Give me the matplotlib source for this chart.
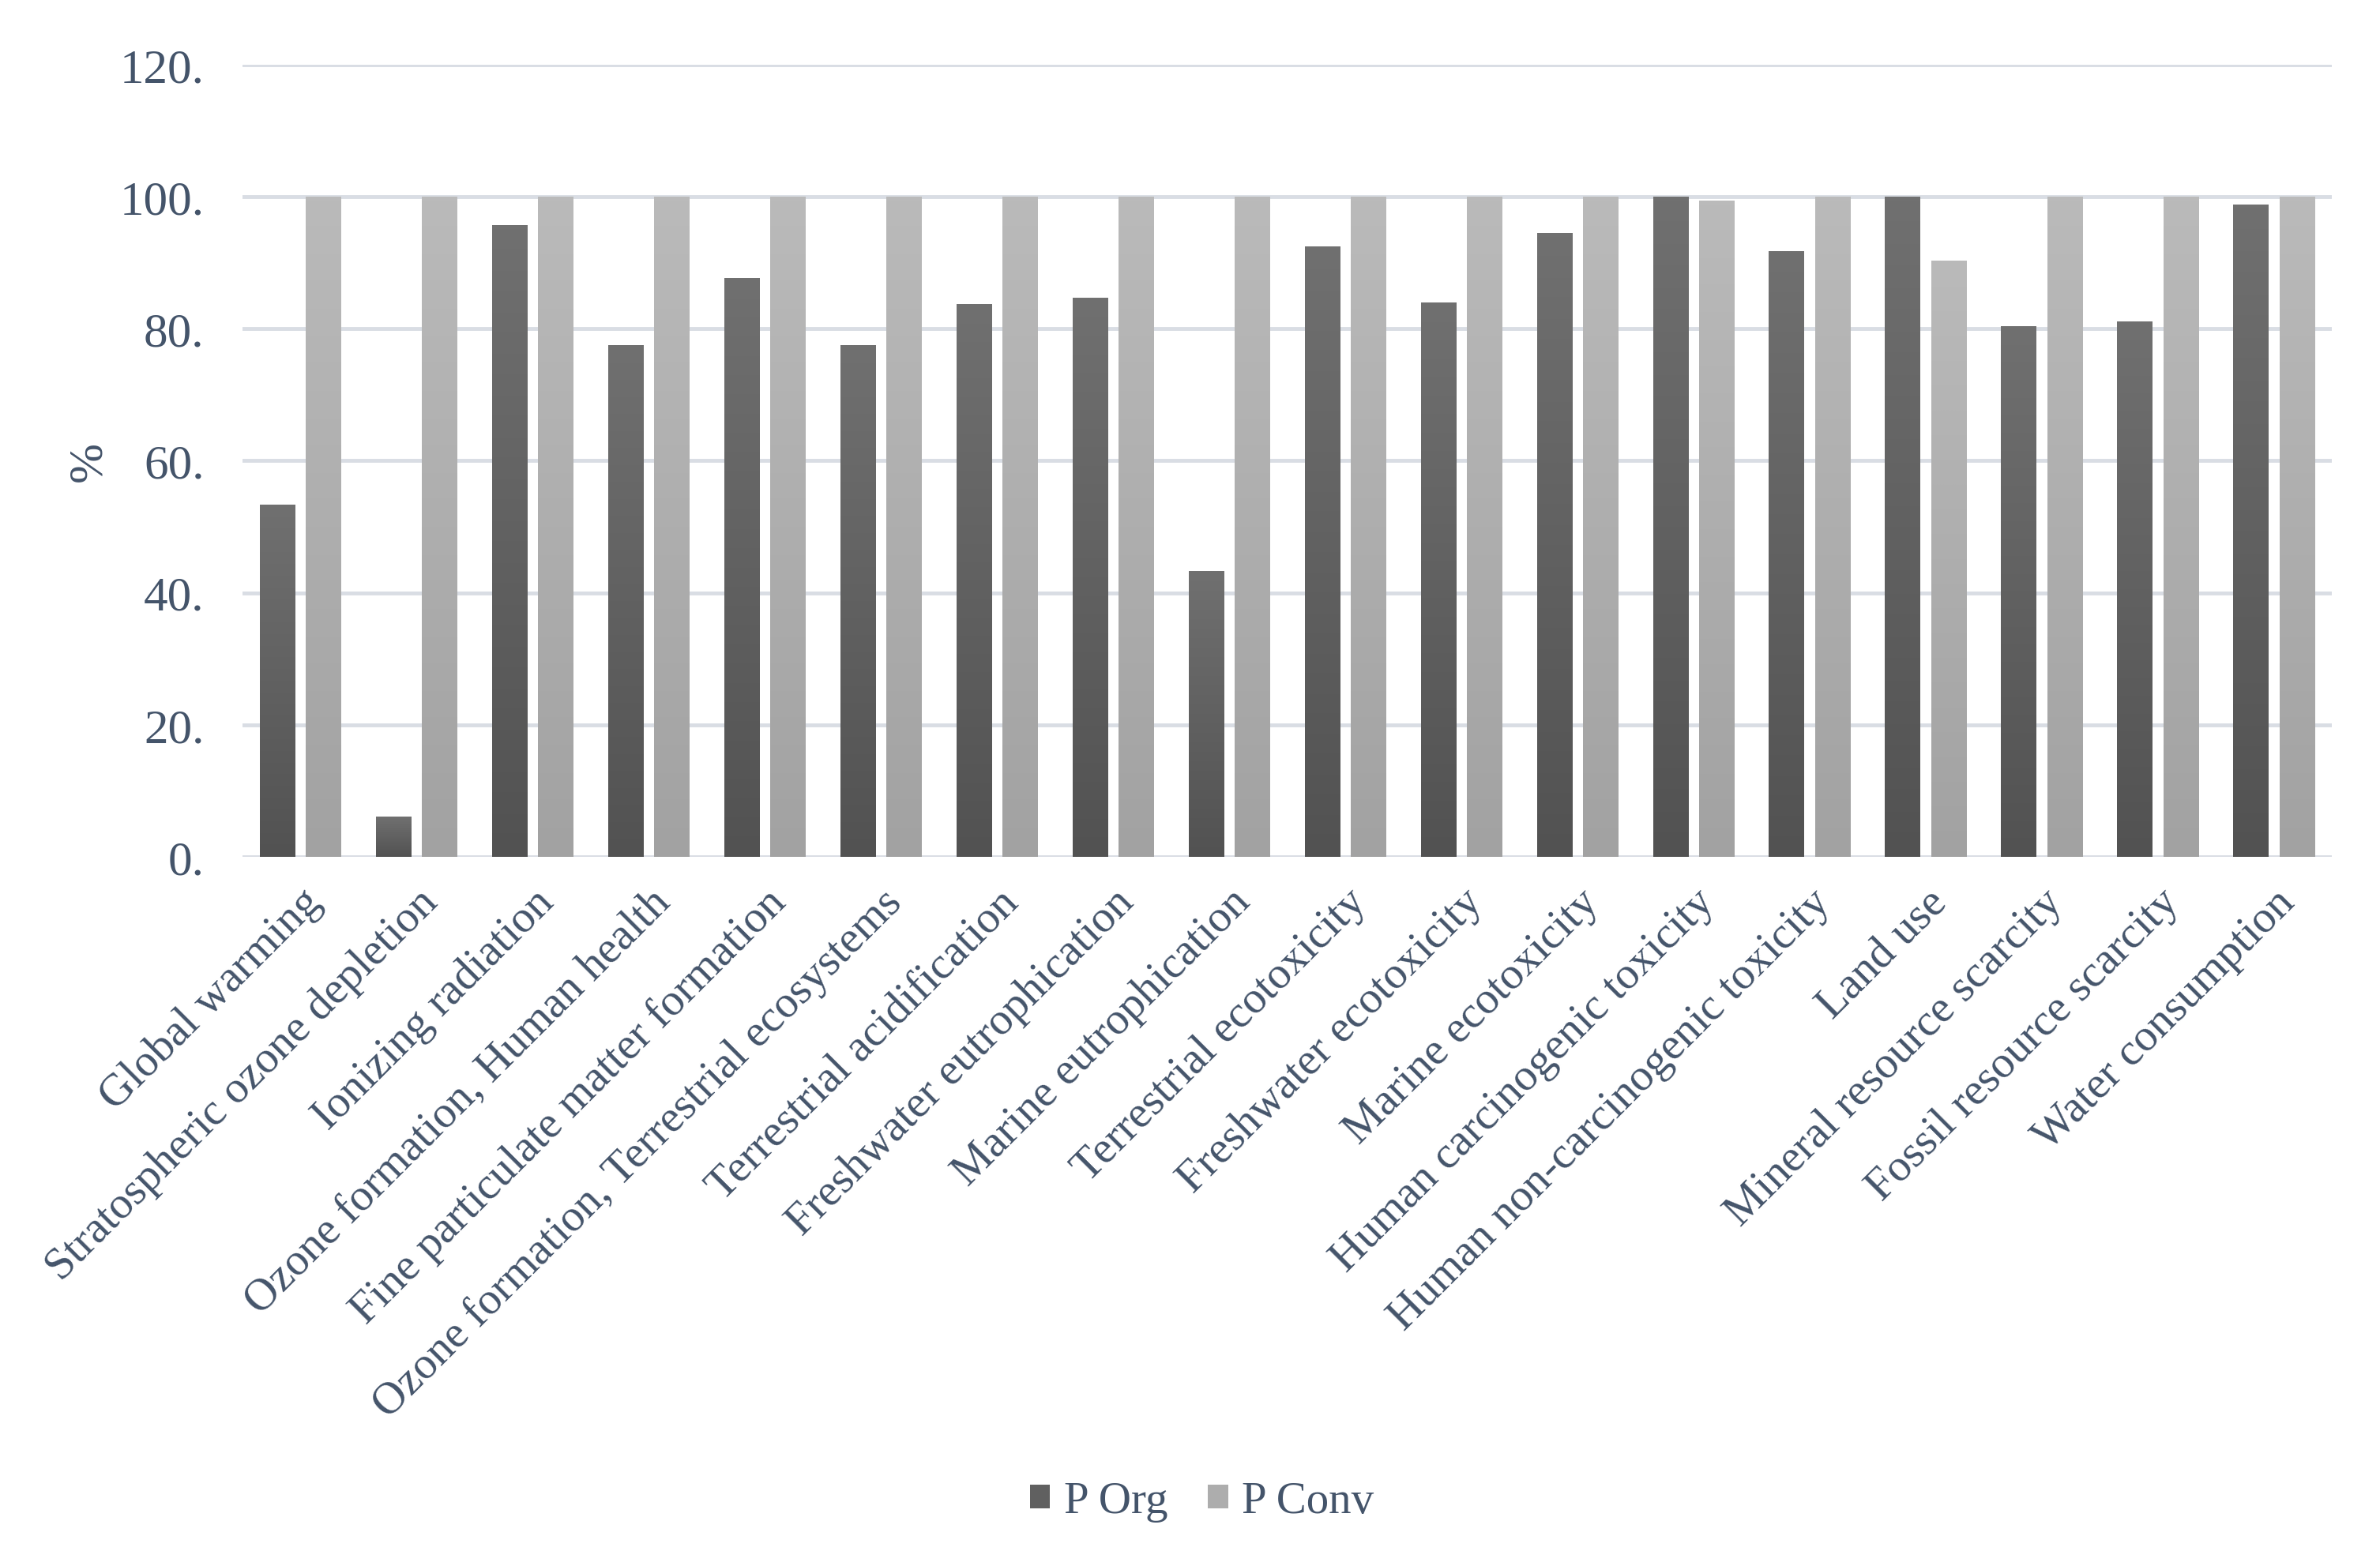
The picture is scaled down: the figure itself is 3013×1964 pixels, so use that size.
import numpy as np
import matplotlib.pyplot as plt
from matplotlib.patches import Patch
from matplotlib.colors import LinearSegmentedColormap

kategorien = ['Global warming', 'Stratospheric ozone depletion', 'Ionizing radiation',
              'Ozone formation, Human health', 'Fine particulate matter formation',
              'Ozone formation, Terrestrial ecosystems', 'Terrestrial acidification',
              'Freshwater eutrophication', 'Marine eutrophication', 'Terrestrial ecotoxicity',
              'Freshwater ecotoxicity', 'Marine ecotoxicity', 'Human carcinogenic toxicity',
              'Human non-carcinogenic toxicity', 'Land use', 'Mineral resource scarcity',
              'Fossil resource scarcity', 'Water consumption']
p_org = [53.3, 6.0, 95.6, 77.5, 87.6, 77.5, 83.7, 84.6, 43.2, 92.4,
         83.9, 94.5, 100.0, 91.7, 100.0, 80.3, 81.1, 98.8]
p_conv = [100.0, 100.0, 100.0, 100.0, 100.0, 100.0, 100.0, 100.0, 100.0, 100.0,
          100.0, 100.0, 99.4, 100.0, 90.3, 100.0, 100.0, 100.0]
y_ticks = [0, 20, 40, 60, 80, 100, 120]

textfarbe = '#44546A'
plt.rcParams['font.family'] = ['Liberation Serif', 'DejaVu Serif']

fig = plt.figure(figsize=(30.13, 19.65), dpi=100)
ax = fig.add_axes([0.1019, 0.4473, 0.878, 0.5105])

x = np.arange(len(kategorien))
breite = 0.306
versatz = 0.198

# Verlauf: oben heller, unten dunkler
cmap_org = LinearSegmentedColormap.from_list('org', ['#525252', '#707070'])
cmap_conv = LinearSegmentedColormap.from_list('conv', ['#a2a2a2', '#bababa'])
verlauf = np.linspace(0, 1, 256).reshape(-1, 1)

bars_org = ax.bar(x - versatz, p_org, breite, color='none', edgecolor='none', zorder=3)
bars_conv = ax.bar(x + versatz, p_conv, breite, color='none', edgecolor='none', zorder=3)

for bars, cmap in [(bars_org, cmap_org), (bars_conv, cmap_conv)]:
    for b in bars:
        x0 = b.get_x()
        h = b.get_height()
        ax.imshow(verlauf, cmap=cmap, origin='lower', aspect='auto',
                  extent=(x0, x0 + b.get_width(), 0, h), zorder=3,
                  vmin=0, vmax=1, interpolation='bilinear')

ax.set_xlim(-0.5, len(kategorien) - 0.5)
ax.set_ylim(0, 120)
ax.set_yticks(y_ticks)
ax.set_yticklabels([f'{v}.' for v in y_ticks], fontsize=44, color=textfarbe)
ax.yaxis.grid(True, color='#d9dde4', linewidth=3.5, zorder=0)
ax.set_axisbelow(True)
ax.tick_params(axis='both', length=0)
ax.tick_params(axis='y', pad=35)
for s in ax.spines.values():
    s.set_visible(False)

ax.set_xticks(x)
ax.set_xticklabels(kategorien, rotation=45, ha='right', rotation_mode='anchor',
                   fontsize=41, color=textfarbe)
ax.tick_params(axis='x', pad=22)
ax.set_ylabel('%', fontsize=44, color=textfarbe, labelpad=8)

handles = [Patch(facecolor='#606060', label='P Org'),
           Patch(facecolor='#adadad', label='P Conv')]
fig.legend(handles=handles, loc='center', bbox_to_anchor=(0.505, 0.032), ncol=2,
           frameon=False, fontsize=41, labelcolor=textfarbe, handlelength=0.45,
           handleheight=0.45, handletextpad=0.3, columnspacing=0.9)

fig.savefig('out.png', dpi=100)
